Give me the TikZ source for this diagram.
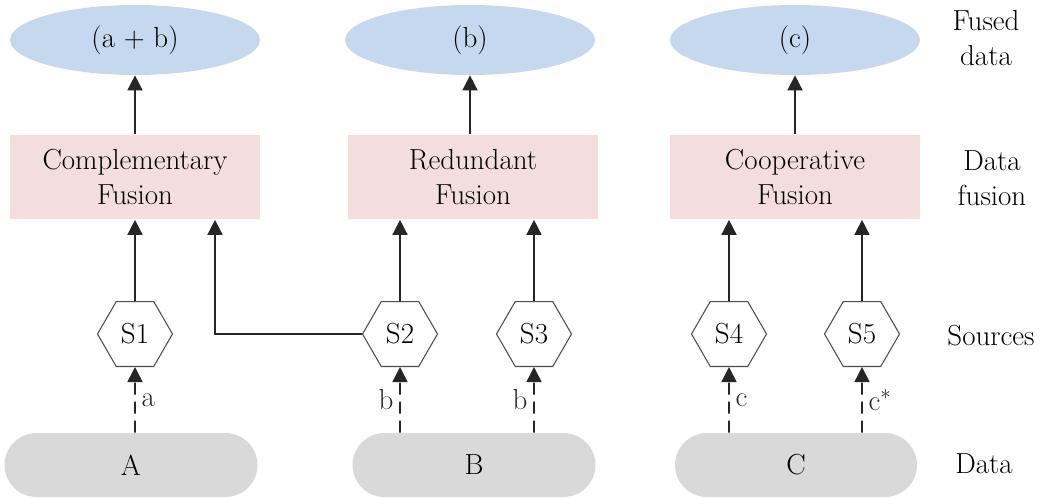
\documentclass[tikz,border=0pt]{standalone}
\usetikzlibrary{shapes.geometric,arrows.meta}

\definecolor{fusedblue}{RGB}{198,216,238}
\definecolor{fusepink}{RGB}{243,221,221}
\definecolor{datagray}{RGB}{217,217,217}

\tikzset{
  txt/.style={font=\fontsize{16.5}{20}\selectfont,align=center},
  fused/.style={ellipse,fill=fusedblue,minimum width=5cm,minimum height=1.4cm,txt},
  fusionbox/.style={rectangle,fill=fusepink,minimum width=5cm,minimum height=1.7cm,txt},
  source/.style={regular polygon,regular polygon sides=6,draw=black!70,line width=0.6pt,
    minimum size=1.5cm,inner sep=0pt,txt},
  datablob/.style={rectangle,rounded corners=0.64cm,fill=datagray,minimum height=1.28cm,txt},
  arr/.style={-{Triangle[width=0.3cm,length=0.3cm]},line width=0.9pt,black!85},
  darr/.style={arr,dash pattern=on 0.24cm off 0.14cm},
}

\begin{document}
\begin{tikzpicture}[x=0.02cm,y=-0.02cm]
  \useasboundingbox (0,0) rectangle (1040,497);
  % fused data
  \node[fused] (ab) at (135,40){(a + b)};
  \node[fused] (b) at (470,40){(b)};
  \node[fused] (c) at (795,40){(c)};
  % fusion
  \node[fusionbox] (comp) at (135,177){Complementary\\Fusion};
  \node[fusionbox] (red) at (473,177){Redundant\\Fusion};
  \node[fusionbox] (coop) at (795,177){Cooperative\\Fusion};
  % sources
  \node[source] (s1) at (135,334){S1};
  \node[source] (s2) at (400,334){S2};
  \node[source] (s3) at (534,334){S3};
  \node[source] (s4) at (729,334){S4};
  \node[source] (s5) at (862,334){S5};
  % data
  \node[datablob,minimum width=5.06cm] (dA) at (131,465){A};
  \node[datablob,minimum width=4.86cm] (dB) at (474,465){B};
  \node[datablob,minimum width=4.84cm] (dC) at (796,465){C};
  % row labels
  \node[txt] (lfused) at (986,38){Fused\\data};
  \node[txt] (lfusion) at (992,178){Data\\fusion};
  \node[txt] (lsrc) at (991,336){Sources};
  \node[txt] (ldata) at (984,464){Data};

  \draw[arr] (comp) -- (ab);
  \draw[arr] (red.north -| b) -- (b);
  \draw[arr] (coop) -- (c);
  \draw[arr] (s1) -- (comp);
  \draw[arr] (s2) -- (s2 |- red.south);
  \draw[arr] (s3) -- (s3 |- red.south);
  \draw[arr] (s4) -- (s4 |- coop.south);
  \draw[arr] (s5) -- (s5 |- coop.south);
  \coordinate (bend) at (215,334);
  \draw[arr] (s2.west) -- (bend) -- (bend |- comp.south);

  \draw[darr] (s1 |- dA.north) -- node[right,txt]{a} (s1);
  \draw[darr] (s2 |- dB.north) -- node[left,txt]{b} (s2);
  \draw[darr] (s3 |- dB.north) -- node[left,txt]{b} (s3);
  \draw[darr] (s4 |- dC.north) -- node[right,txt]{c} (s4);
  \draw[darr] (s5 |- dC.north) -- node[right,txt]{c$^*$} (s5);
\end{tikzpicture}
\end{document}
